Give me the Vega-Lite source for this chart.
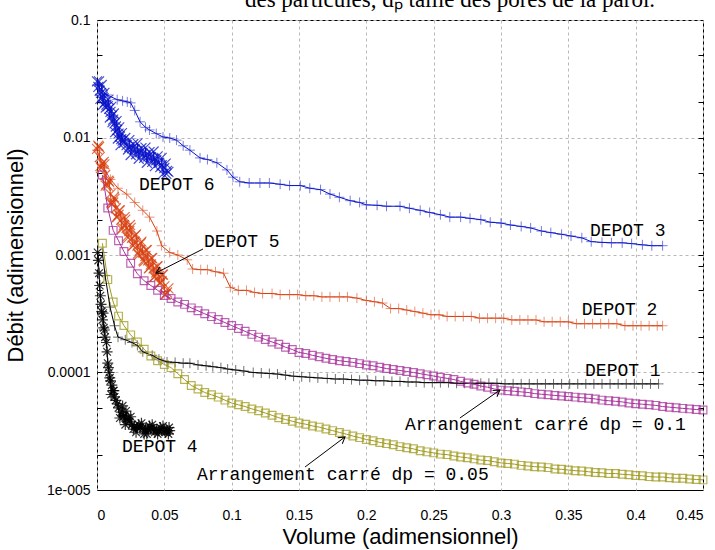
{
"$schema": "https://vega.github.io/schema/vega-lite/v6.json",
"width": 606, "height": 470,
"autosize": {"type": "none"},
"padding": {"left": 97, "top": 20, "right": 12, "bottom": 60},
"background": "white",
"config": {"view": {"stroke": "black", "strokeWidth": 1}},
"title": {"text": "des particules, dₚ taille des pores de la paroi.", "font": "Liberation Serif", "fontSize": 23, "fontWeight": "normal", "color": "black", "anchor": "middle", "frame": "group", "dx": 50, "offset": -17, "baseline": "alphabetic"},
"datasets": {
"pts": [
{"s":"D3","x":0,"y":0.028},{"s":"D3","x":0.004,"y":0.025},{"s":"D3","x":0.0075,"y":0.023},{"s":"D3","x":0.015,"y":0.021},{"s":"D3","x":0.019,"y":0.0205},{"s":"D3","x":0.0225,"y":0.0201},{"s":"D3","x":0.025,"y":0.0197},{"s":"D3","x":0.028,"y":0.017},{"s":"D3","x":0.032,"y":0.0136},{"s":"D3","x":0.036,"y":0.0122},{"s":"D3","x":0.039,"y":0.0116},{"s":"D3","x":0.044,"y":0.0108},{"s":"D3","x":0.049,"y":0.0101},{"s":"D3","x":0.054,"y":0.0099},{"s":"D3","x":0.059,"y":0.0095},{"s":"D3","x":0.064,"y":0.0085},{"s":"D3","x":0.069,"y":0.0078},{"s":"D3","x":0.0765,"y":0.0067},{"s":"D3","x":0.082,"y":0.0065},{"s":"D3","x":0.089,"y":0.0061},{"s":"D3","x":0.0965,"y":0.0053},{"s":"D3","x":0.101,"y":0.0046},{"s":"D3","x":0.106,"y":0.0042},{"s":"D3","x":0.113,"y":0.0041},{"s":"D3","x":0.121,"y":0.0041},{"s":"D3","x":0.128,"y":0.0041},{"s":"D3","x":0.136,"y":0.004},{"s":"D3","x":0.143,"y":0.0039},{"s":"D3","x":0.151,"y":0.0039},{"s":"D3","x":0.158,"y":0.0037},{"s":"D3","x":0.166,"y":0.0036},{"s":"D3","x":0.173,"y":0.0033},{"s":"D3","x":0.18,"y":0.0031},{"s":"D3","x":0.188,"y":0.0029},{"s":"D3","x":0.195,"y":0.0028},{"s":"D3","x":0.2,"y":0.00267},{"s":"D3","x":0.208,"y":0.00265},{"s":"D3","x":0.215,"y":0.0026},{"s":"D3","x":0.225,"y":0.0026},{"s":"D3","x":0.232,"y":0.0025},{"s":"D3","x":0.24,"y":0.0024},{"s":"D3","x":0.247,"y":0.0023},{"s":"D3","x":0.255,"y":0.0022},{"s":"D3","x":0.262,"y":0.0021},{"s":"D3","x":0.27,"y":0.0021},{"s":"D3","x":0.277,"y":0.00205},{"s":"D3","x":0.285,"y":0.002},{"s":"D3","x":0.292,"y":0.0019},{"s":"D3","x":0.3,"y":0.00187},{"s":"D3","x":0.307,"y":0.0018},{"s":"D3","x":0.315,"y":0.00175},{"s":"D3","x":0.322,"y":0.0017},{"s":"D3","x":0.33,"y":0.0016},{"s":"D3","x":0.337,"y":0.00155},{"s":"D3","x":0.345,"y":0.0015},{"s":"D3","x":0.352,"y":0.00145},{"s":"D3","x":0.36,"y":0.0014},{"s":"D3","x":0.367,"y":0.0013},{"s":"D3","x":0.375,"y":0.00128},{"s":"D3","x":0.382,"y":0.00127},{"s":"D3","x":0.39,"y":0.00127},{"s":"D3","x":0.397,"y":0.00125},{"s":"D3","x":0.405,"y":0.00122},{"s":"D3","x":0.412,"y":0.0012},{"s":"D3","x":0.42,"y":0.0012},
{"s":"D2","x":0,"y":0.0078},{"s":"D2","x":0.005,"y":0.0055},{"s":"D2","x":0.01,"y":0.0044},{"s":"D2","x":0.0156,"y":0.0037},{"s":"D2","x":0.022,"y":0.0033},{"s":"D2","x":0.028,"y":0.0028},{"s":"D2","x":0.034,"y":0.0024},{"s":"D2","x":0.039,"y":0.0021},{"s":"D2","x":0.0445,"y":0.0016},{"s":"D2","x":0.048,"y":0.0012},{"s":"D2","x":0.054,"y":0.00105},{"s":"D2","x":0.06,"y":0.001},{"s":"D2","x":0.067,"y":0.00091},{"s":"D2","x":0.071,"y":0.00076},{"s":"D2","x":0.077,"y":0.00075},{"s":"D2","x":0.082,"y":0.00075},{"s":"D2","x":0.088,"y":0.00072},{"s":"D2","x":0.094,"y":0.0007},{"s":"D2","x":0.099,"y":0.00053},{"s":"D2","x":0.105,"y":0.0005},{"s":"D2","x":0.111,"y":0.0005},{"s":"D2","x":0.117,"y":0.00048},{"s":"D2","x":0.123,"y":0.00047},{"s":"D2","x":0.13,"y":0.00047},{"s":"D2","x":0.136,"y":0.00046},{"s":"D2","x":0.143,"y":0.00046},{"s":"D2","x":0.149,"y":0.00046},{"s":"D2","x":0.155,"y":0.00045},{"s":"D2","x":0.161,"y":0.00045},{"s":"D2","x":0.167,"y":0.00044},{"s":"D2","x":0.173,"y":0.00044},{"s":"D2","x":0.18,"y":0.00044},{"s":"D2","x":0.186,"y":0.00044},{"s":"D2","x":0.193,"y":0.00043},{"s":"D2","x":0.2,"y":0.00041},{"s":"D2","x":0.206,"y":0.0004},{"s":"D2","x":0.212,"y":0.00039},{"s":"D2","x":0.218,"y":0.00035},{"s":"D2","x":0.224,"y":0.00035},{"s":"D2","x":0.23,"y":0.00034},{"s":"D2","x":0.236,"y":0.00033},{"s":"D2","x":0.242,"y":0.00032},{"s":"D2","x":0.248,"y":0.00031},{"s":"D2","x":0.254,"y":0.00031},{"s":"D2","x":0.26,"y":0.0003},{"s":"D2","x":0.266,"y":0.0003},{"s":"D2","x":0.272,"y":0.0003},{"s":"D2","x":0.278,"y":0.0003},{"s":"D2","x":0.284,"y":0.00029},{"s":"D2","x":0.29,"y":0.00029},{"s":"D2","x":0.296,"y":0.00029},{"s":"D2","x":0.302,"y":0.00029},{"s":"D2","x":0.308,"y":0.00028},{"s":"D2","x":0.314,"y":0.00028},{"s":"D2","x":0.32,"y":0.00028},{"s":"D2","x":0.326,"y":0.00028},{"s":"D2","x":0.332,"y":0.00027},{"s":"D2","x":0.338,"y":0.00027},{"s":"D2","x":0.344,"y":0.00027},{"s":"D2","x":0.35,"y":0.00027},{"s":"D2","x":0.356,"y":0.00026},{"s":"D2","x":0.362,"y":0.00026},{"s":"D2","x":0.368,"y":0.00026},{"s":"D2","x":0.374,"y":0.00026},{"s":"D2","x":0.38,"y":0.00026},{"s":"D2","x":0.386,"y":0.00026},{"s":"D2","x":0.392,"y":0.00025},{"s":"D2","x":0.398,"y":0.00025},{"s":"D2","x":0.404,"y":0.00025},{"s":"D2","x":0.41,"y":0.00025},{"s":"D2","x":0.416,"y":0.00025},{"s":"D2","x":0.42,"y":0.00025},
{"s":"D1","x":0.004,"y":0.00105},{"s":"D1","x":0.006,"y":0.00067},{"s":"D1","x":0.0097,"y":0.00036},{"s":"D1","x":0.013,"y":0.00025},{"s":"D1","x":0.0156,"y":0.0002},{"s":"D1","x":0.021,"y":0.00019},{"s":"D1","x":0.026,"y":0.00018},{"s":"D1","x":0.03,"y":0.00017},{"s":"D1","x":0.034,"y":0.00015},{"s":"D1","x":0.041,"y":0.00014},{"s":"D1","x":0.046,"y":0.00013},{"s":"D1","x":0.052,"y":0.000123},{"s":"D1","x":0.058,"y":0.000122},{"s":"D1","x":0.064,"y":0.00012},{"s":"D1","x":0.069,"y":0.00012},{"s":"D1","x":0.075,"y":0.000116},{"s":"D1","x":0.081,"y":0.000114},{"s":"D1","x":0.086,"y":0.000112},{"s":"D1","x":0.092,"y":0.00011},{"s":"D1","x":0.097,"y":0.000107},{"s":"D1","x":0.103,"y":0.000105},{"s":"D1","x":0.109,"y":0.000103},{"s":"D1","x":0.116,"y":0.0001},{"s":"D1","x":0.122,"y":0.000099},{"s":"D1","x":0.128,"y":0.000098},{"s":"D1","x":0.134,"y":0.000097},{"s":"D1","x":0.14,"y":0.000095},{"s":"D1","x":0.146,"y":0.000093},{"s":"D1","x":0.152,"y":0.000092},{"s":"D1","x":0.158,"y":0.000091},{"s":"D1","x":0.164,"y":0.00009},{"s":"D1","x":0.171,"y":0.000089},{"s":"D1","x":0.177,"y":0.000088},{"s":"D1","x":0.183,"y":0.000088},{"s":"D1","x":0.189,"y":0.000087},{"s":"D1","x":0.195,"y":0.000086},{"s":"D1","x":0.201,"y":0.000086},{"s":"D1","x":0.207,"y":0.000085},{"s":"D1","x":0.213,"y":0.000085},{"s":"D1","x":0.219,"y":0.000084},{"s":"D1","x":0.225,"y":0.000084},{"s":"D1","x":0.231,"y":0.000083},{"s":"D1","x":0.237,"y":0.000083},{"s":"D1","x":0.243,"y":0.000082},{"s":"D1","x":0.249,"y":0.000082},{"s":"D1","x":0.255,"y":0.000082},{"s":"D1","x":0.261,"y":0.000082},{"s":"D1","x":0.267,"y":0.000081},{"s":"D1","x":0.273,"y":0.000081},{"s":"D1","x":0.279,"y":0.000081},{"s":"D1","x":0.285,"y":0.000081},{"s":"D1","x":0.291,"y":0.000081},{"s":"D1","x":0.297,"y":0.000081},{"s":"D1","x":0.303,"y":0.00008},{"s":"D1","x":0.309,"y":0.00008},{"s":"D1","x":0.315,"y":0.00008},{"s":"D1","x":0.321,"y":0.00008},{"s":"D1","x":0.327,"y":0.00008},{"s":"D1","x":0.333,"y":0.00008},{"s":"D1","x":0.339,"y":0.00008},{"s":"D1","x":0.345,"y":0.00008},{"s":"D1","x":0.351,"y":0.00008},{"s":"D1","x":0.357,"y":0.00008},{"s":"D1","x":0.363,"y":0.00008},{"s":"D1","x":0.369,"y":0.00008},{"s":"D1","x":0.375,"y":0.00008},{"s":"D1","x":0.381,"y":0.00008},{"s":"D1","x":0.387,"y":0.00008},{"s":"D1","x":0.393,"y":0.00008},{"s":"D1","x":0.399,"y":0.00008},{"s":"D1","x":0.405,"y":0.00008},{"s":"D1","x":0.411,"y":0.00008},{"s":"D1","x":0.417,"y":0.00008},
{"s":"D6","x":0,"y":0.03},{"s":"D6","x":0.001,"y":0.027},{"s":"D6","x":0.002,"y":0.025},{"s":"D6","x":0.003,"y":0.024},{"s":"D6","x":0.004,"y":0.022},{"s":"D6","x":0.005,"y":0.0215},{"s":"D6","x":0.006,"y":0.02},{"s":"D6","x":0.007,"y":0.019},{"s":"D6","x":0.008,"y":0.0185},{"s":"D6","x":0.009,"y":0.0175},{"s":"D6","x":0.01,"y":0.0165},{"s":"D6","x":0.011,"y":0.0152},{"s":"D6","x":0.012,"y":0.0142},{"s":"D6","x":0.013,"y":0.0132},{"s":"D6","x":0.014,"y":0.0124},{"s":"D6","x":0.015,"y":0.0116},{"s":"D6","x":0.016,"y":0.0108},{"s":"D6","x":0.017,"y":0.0102},{"s":"D6","x":0.018,"y":0.0097},{"s":"D6","x":0.019,"y":0.0094},{"s":"D6","x":0.02,"y":0.009},{"s":"D6","x":0.022,"y":0.0086},{"s":"D6","x":0.024,"y":0.0083},{"s":"D6","x":0.026,"y":0.0081},{"s":"D6","x":0.028,"y":0.0079},{"s":"D6","x":0.03,"y":0.0077},{"s":"D6","x":0.032,"y":0.0075},{"s":"D6","x":0.034,"y":0.0073},{"s":"D6","x":0.036,"y":0.0071},{"s":"D6","x":0.038,"y":0.0069},{"s":"D6","x":0.04,"y":0.0068},{"s":"D6","x":0.042,"y":0.0066},{"s":"D6","x":0.044,"y":0.0064},{"s":"D6","x":0.046,"y":0.0061},{"s":"D6","x":0.048,"y":0.0058},{"s":"D6","x":0.05,"y":0.0055},{"s":"D6","x":0.052,"y":0.0052},{"s":"D6","x":0.053,"y":0.0051},
{"s":"D6","x":0.0035,"y":0.028},{"s":"D6","x":0.0085,"y":0.021},{"s":"D6","x":0.0125,"y":0.016},{"s":"D6","x":0.0165,"y":0.0122},{"s":"D6","x":0.021,"y":0.0099},{"s":"D6","x":0.027,"y":0.0088},{"s":"D6","x":0.033,"y":0.0081},{"s":"D6","x":0.039,"y":0.0075},{"s":"D6","x":0.045,"y":0.0069},{"s":"D6","x":0.051,"y":0.006},{"s":"D6","x":0.0065,"y":0.018},{"s":"D6","x":0.0115,"y":0.0135},{"s":"D6","x":0.0155,"y":0.0098},{"s":"D6","x":0.023,"y":0.0079},{"s":"D6","x":0.029,"y":0.0072},{"s":"D6","x":0.035,"y":0.0067},{"s":"D6","x":0.041,"y":0.0062},{"s":"D6","x":0.047,"y":0.0056},{"s":"D6","x":0.0515,"y":0.0049},
{"s":"D6","x":0.0015,"y":0.03},{"s":"D6","x":0.0055,"y":0.024},{"s":"D6","x":0.0105,"y":0.0182},{"s":"D6","x":0.0145,"y":0.0138},{"s":"D6","x":0.0185,"y":0.0109},{"s":"D6","x":0.024,"y":0.0095},{"s":"D6","x":0.03,"y":0.0089},{"s":"D6","x":0.036,"y":0.0082},{"s":"D6","x":0.042,"y":0.0076},{"s":"D6","x":0.048,"y":0.0067},{"s":"D6","x":0.0025,"y":0.0213},{"s":"D6","x":0.0045,"y":0.019},{"s":"D6","x":0.0095,"y":0.0148},{"s":"D6","x":0.0135,"y":0.0111},{"s":"D6","x":0.0175,"y":0.0086},{"s":"D6","x":0.025,"y":0.0071},{"s":"D6","x":0.031,"y":0.0066},{"s":"D6","x":0.037,"y":0.0061},{"s":"D6","x":0.043,"y":0.0057},{"s":"D6","x":0.049,"y":0.0049},
{"s":"D5","x":0,"y":0.008},{"s":"D5","x":0.002,"y":0.0068},{"s":"D5","x":0.004,"y":0.006},{"s":"D5","x":0.006,"y":0.0048},{"s":"D5","x":0.008,"y":0.0039},{"s":"D5","x":0.01,"y":0.0033},{"s":"D5","x":0.012,"y":0.0028},{"s":"D5","x":0.014,"y":0.0025},{"s":"D5","x":0.016,"y":0.0022},{"s":"D5","x":0.018,"y":0.002},{"s":"D5","x":0.02,"y":0.0018},{"s":"D5","x":0.022,"y":0.0017},{"s":"D5","x":0.024,"y":0.0016},{"s":"D5","x":0.026,"y":0.0014},{"s":"D5","x":0.028,"y":0.0013},{"s":"D5","x":0.03,"y":0.0012},{"s":"D5","x":0.032,"y":0.0011},{"s":"D5","x":0.034,"y":0.00105},{"s":"D5","x":0.036,"y":0.00098},{"s":"D5","x":0.038,"y":0.0009},{"s":"D5","x":0.04,"y":0.00083},{"s":"D5","x":0.042,"y":0.00077},{"s":"D5","x":0.044,"y":0.00071},{"s":"D5","x":0.046,"y":0.00066},{"s":"D5","x":0.048,"y":0.0006},{"s":"D5","x":0.05,"y":0.00054},{"s":"D5","x":0.052,"y":0.00048},
{"s":"D5","x":0.001,"y":0.0085},{"s":"D5","x":0.005,"y":0.0062},{"s":"D5","x":0.009,"y":0.0042},{"s":"D5","x":0.013,"y":0.003},{"s":"D5","x":0.017,"y":0.0024},{"s":"D5","x":0.021,"y":0.002},{"s":"D5","x":0.025,"y":0.0017},{"s":"D5","x":0.029,"y":0.0015},{"s":"D5","x":0.033,"y":0.0013},{"s":"D5","x":0.037,"y":0.0011},{"s":"D5","x":0.041,"y":0.00094},{"s":"D5","x":0.045,"y":0.0008},{"s":"D5","x":0.049,"y":0.00068},{"s":"D5","x":0.053,"y":0.00052},{"s":"D5","x":0.003,"y":0.0055},{"s":"D5","x":0.007,"y":0.004},{"s":"D5","x":0.011,"y":0.0027},{"s":"D5","x":0.015,"y":0.0021},{"s":"D5","x":0.019,"y":0.0017},{"s":"D5","x":0.023,"y":0.0014},{"s":"D5","x":0.027,"y":0.0012},{"s":"D5","x":0.031,"y":0.001},{"s":"D5","x":0.035,"y":0.00088},{"s":"D5","x":0.039,"y":0.00078},{"s":"D5","x":0.043,"y":0.00066},{"s":"D5","x":0.047,"y":0.00058},{"s":"D5","x":0.051,"y":0.00046},
{"s":"D5","x":0.0015,"y":0.0083},{"s":"D5","x":0.0055,"y":0.0059},{"s":"D5","x":0.0085,"y":0.0043},{"s":"D5","x":0.0125,"y":0.0031},{"s":"D5","x":0.0165,"y":0.0024},{"s":"D5","x":0.0205,"y":0.0021},{"s":"D5","x":0.0245,"y":0.0018},{"s":"D5","x":0.0285,"y":0.00147},{"s":"D5","x":0.0325,"y":0.00126},{"s":"D5","x":0.0365,"y":0.0011},{"s":"D5","x":0.0405,"y":0.00094},{"s":"D5","x":0.0445,"y":0.0008},{"s":"D5","x":0.0485,"y":0.00068},{"s":"D5","x":0.0025,"y":0.0057},{"s":"D5","x":0.0065,"y":0.0039},{"s":"D5","x":0.0105,"y":0.0028},{"s":"D5","x":0.0145,"y":0.0021},{"s":"D5","x":0.0185,"y":0.00165},{"s":"D5","x":0.0225,"y":0.00144},{"s":"D5","x":0.0265,"y":0.0012},{"s":"D5","x":0.0305,"y":0.00103},{"s":"D5","x":0.0345,"y":0.0009},{"s":"D5","x":0.0385,"y":0.00077},{"s":"D5","x":0.0425,"y":0.00065},{"s":"D5","x":0.0465,"y":0.00057},{"s":"D5","x":0.0505,"y":0.00046},
{"s":"D4","x":0.0005,"y":0.00105},{"s":"D4","x":0.001,"y":0.0009},{"s":"D4","x":0.0015,"y":0.0007},{"s":"D4","x":0.002,"y":0.00055},{"s":"D4","x":0.0025,"y":0.00045},{"s":"D4","x":0.003,"y":0.00038},{"s":"D4","x":0.0035,"y":0.00033},{"s":"D4","x":0.004,"y":0.00028},{"s":"D4","x":0.005,"y":0.00024},{"s":"D4","x":0.006,"y":0.0002},{"s":"D4","x":0.007,"y":0.00018},{"s":"D4","x":0.008,"y":0.00012},{"s":"D4","x":0.009,"y":0.0001},{"s":"D4","x":0.01,"y":0.000085},{"s":"D4","x":0.011,"y":0.000078},{"s":"D4","x":0.012,"y":0.00007},{"s":"D4","x":0.013,"y":0.000062},{"s":"D4","x":0.014,"y":0.000058},{"s":"D4","x":0.015,"y":0.000054},{"s":"D4","x":0.016,"y":0.00005},{"s":"D4","x":0.018,"y":0.000046},{"s":"D4","x":0.02,"y":0.000043},{"s":"D4","x":0.022,"y":0.00004},{"s":"D4","x":0.024,"y":0.000038},{"s":"D4","x":0.026,"y":0.000036},{"s":"D4","x":0.028,"y":0.000035},{"s":"D4","x":0.03,"y":0.000034},{"s":"D4","x":0.032,"y":0.000034},{"s":"D4","x":0.034,"y":0.0000335},{"s":"D4","x":0.036,"y":0.000033},{"s":"D4","x":0.038,"y":0.000033},{"s":"D4","x":0.04,"y":0.000033},{"s":"D4","x":0.042,"y":0.0000325},{"s":"D4","x":0.044,"y":0.0000325},{"s":"D4","x":0.046,"y":0.000032},{"s":"D4","x":0.048,"y":0.000032},{"s":"D4","x":0.05,"y":0.000032},{"s":"D4","x":0.052,"y":0.000032},{"s":"D4","x":0.054,"y":0.000032},
{"s":"D4","x":0.017,"y":0.000041},{"s":"D4","x":0.019,"y":0.000052},{"s":"D4","x":0.021,"y":0.000036},{"s":"D4","x":0.025,"y":0.000042},{"s":"D4","x":0.029,"y":0.000031},{"s":"D4","x":0.033,"y":0.000037},{"s":"D4","x":0.037,"y":0.00003},{"s":"D4","x":0.041,"y":0.000036},{"s":"D4","x":0.045,"y":0.00003},{"s":"D4","x":0.049,"y":0.000035},{"s":"D4","x":0.053,"y":0.00003},{"s":"D4","x":0.0105,"y":0.000065},{"s":"D4","x":0.0125,"y":0.00007},
{"s":"D4","x":0.023,"y":0.000041},{"s":"D4","x":0.027,"y":0.000033},{"s":"D4","x":0.031,"y":0.000036},{"s":"D4","x":0.035,"y":0.00003},{"s":"D4","x":0.039,"y":0.000035},{"s":"D4","x":0.043,"y":0.000031},{"s":"D4","x":0.047,"y":0.000034},{"s":"D4","x":0.051,"y":0.000031},{"s":"D4","x":0.0535,"y":0.000034},{"s":"D4","x":0.0195,"y":0.000042},{"s":"D4","x":0.0215,"y":0.000047},{"s":"D4","x":0.0075,"y":0.00015},{"s":"D4","x":0.0085,"y":0.00011},{"s":"D4","x":0.0095,"y":0.00009},{"s":"D4","x":0.0055,"y":0.00023},{"s":"D4","x":0.0045,"y":0.00032},
{"s":"C1","x":0.004,"y":0.00479},{"s":"C1","x":0.008,"y":0.00251},{"s":"C1","x":0.012,"y":0.00162},{"s":"C1","x":0.016,"y":0.00132},{"s":"C1","x":0.02,"y":0.00107},{"s":"C1","x":0.025,"y":0.000851},{"s":"C1","x":0.03,"y":0.000692},{"s":"C1","x":0.035,"y":0.000603},{"s":"C1","x":0.04,"y":0.00055},{"s":"C1","x":0.045,"y":0.000501},{"s":"C1","x":0.05,"y":0.000452},{"s":"C1","x":0.055,"y":0.000427},{"s":"C1","x":0.06,"y":0.000398},{"s":"C1","x":0.065,"y":0.00038},{"s":"C1","x":0.07,"y":0.000355},{"s":"C1","x":0.075,"y":0.000335},{"s":"C1","x":0.08,"y":0.000316},{"s":"C1","x":0.085,"y":0.000299},{"s":"C1","x":0.09,"y":0.000282},{"s":"C1","x":0.095,"y":0.000266},{"s":"C1","x":0.1,"y":0.000251},{"s":"C1","x":0.105,"y":0.000237},{"s":"C1","x":0.11,"y":0.000224},{"s":"C1","x":0.115,"y":0.000211},{"s":"C1","x":0.12,"y":0.0002},{"s":"C1","x":0.125,"y":0.000191},{"s":"C1","x":0.13,"y":0.000182},{"s":"C1","x":0.135,"y":0.000174},{"s":"C1","x":0.14,"y":0.000164},{"s":"C1","x":0.145,"y":0.000157},{"s":"C1","x":0.15,"y":0.000148},{"s":"C1","x":0.155,"y":0.000145},{"s":"C1","x":0.16,"y":0.00014},{"s":"C1","x":0.165,"y":0.000136},{"s":"C1","x":0.17,"y":0.000132},{"s":"C1","x":0.175,"y":0.000129},{"s":"C1","x":0.18,"y":0.000126},{"s":"C1","x":0.185,"y":0.000124},{"s":"C1","x":0.19,"y":0.000122},{"s":"C1","x":0.195,"y":0.000119},{"s":"C1","x":0.2,"y":0.000116},{"s":"C1","x":0.205,"y":0.000114},{"s":"C1","x":0.21,"y":0.000111},{"s":"C1","x":0.215,"y":0.000108},{"s":"C1","x":0.22,"y":0.000106},{"s":"C1","x":0.225,"y":0.000104},{"s":"C1","x":0.23,"y":0.000102},{"s":"C1","x":0.235,"y":0.0001},{"s":"C1","x":0.24,"y":0.0000977},{"s":"C1","x":0.245,"y":0.0000955},{"s":"C1","x":0.25,"y":0.0000933},{"s":"C1","x":0.255,"y":0.0000912},{"s":"C1","x":0.26,"y":0.0000891},{"s":"C1","x":0.265,"y":0.0000871},{"s":"C1","x":0.27,"y":0.0000841},{"s":"C1","x":0.275,"y":0.0000813},{"s":"C1","x":0.28,"y":0.0000794},{"s":"C1","x":0.285,"y":0.0000767},{"s":"C1","x":0.29,"y":0.000075},{"s":"C1","x":0.295,"y":0.0000724},{"s":"C1","x":0.3,"y":0.0000708},{"s":"C1","x":0.305,"y":0.00007},{"s":"C1","x":0.31,"y":0.0000692},{"s":"C1","x":0.315,"y":0.0000684},{"s":"C1","x":0.32,"y":0.0000676},{"s":"C1","x":0.325,"y":0.0000661},{"s":"C1","x":0.33,"y":0.0000653},{"s":"C1","x":0.335,"y":0.0000646},{"s":"C1","x":0.34,"y":0.0000638},{"s":"C1","x":0.345,"y":0.0000631},{"s":"C1","x":0.35,"y":0.0000624},{"s":"C1","x":0.355,"y":0.0000617},{"s":"C1","x":0.36,"y":0.000061},{"s":"C1","x":0.365,"y":0.0000603},{"s":"C1","x":0.37,"y":0.0000596},{"s":"C1","x":0.375,"y":0.0000582},{"s":"C1","x":0.38,"y":0.0000575},{"s":"C1","x":0.385,"y":0.0000569},{"s":"C1","x":0.39,"y":0.0000562},{"s":"C1","x":0.395,"y":0.000055},{"s":"C1","x":0.4,"y":0.0000543},{"s":"C1","x":0.405,"y":0.0000537},{"s":"C1","x":0.41,"y":0.0000531},{"s":"C1","x":0.415,"y":0.0000525},{"s":"C1","x":0.42,"y":0.0000513},{"s":"C1","x":0.425,"y":0.0000507},{"s":"C1","x":0.43,"y":0.0000501},{"s":"C1","x":0.435,"y":0.0000495},{"s":"C1","x":0.44,"y":0.000049},{"s":"C1","x":0.445,"y":0.0000484},{"s":"C1","x":0.45,"y":0.0000479},
{"s":"C05","x":0.004,"y":0.00126},{"s":"C05","x":0.008,"y":0.000617},{"s":"C05","x":0.012,"y":0.000398},{"s":"C05","x":0.016,"y":0.000302},{"s":"C05","x":0.02,"y":0.000251},{"s":"C05","x":0.025,"y":0.000209},{"s":"C05","x":0.03,"y":0.000182},{"s":"C05","x":0.035,"y":0.000158},{"s":"C05","x":0.04,"y":0.000138},{"s":"C05","x":0.045,"y":0.000126},{"s":"C05","x":0.05,"y":0.000117},{"s":"C05","x":0.055,"y":0.00011},{"s":"C05","x":0.06,"y":0.0000977},{"s":"C05","x":0.065,"y":0.0000871},{"s":"C05","x":0.07,"y":0.0000776},{"s":"C05","x":0.075,"y":0.0000724},{"s":"C05","x":0.08,"y":0.0000676},{"s":"C05","x":0.085,"y":0.0000646},{"s":"C05","x":0.09,"y":0.0000617},{"s":"C05","x":0.095,"y":0.0000582},{"s":"C05","x":0.1,"y":0.000055},{"s":"C05","x":0.105,"y":0.0000531},{"s":"C05","x":0.11,"y":0.0000513},{"s":"C05","x":0.115,"y":0.000049},{"s":"C05","x":0.12,"y":0.0000473},{"s":"C05","x":0.125,"y":0.0000452},{"s":"C05","x":0.13,"y":0.0000432},{"s":"C05","x":0.135,"y":0.0000412},{"s":"C05","x":0.14,"y":0.0000398},{"s":"C05","x":0.145,"y":0.0000385},{"s":"C05","x":0.15,"y":0.0000372},{"s":"C05","x":0.155,"y":0.0000363},{"s":"C05","x":0.16,"y":0.0000351},{"s":"C05","x":0.165,"y":0.0000343},{"s":"C05","x":0.17,"y":0.0000331},{"s":"C05","x":0.175,"y":0.000032},{"s":"C05","x":0.18,"y":0.0000309},{"s":"C05","x":0.185,"y":0.0000299},{"s":"C05","x":0.19,"y":0.0000288},{"s":"C05","x":0.195,"y":0.0000279},{"s":"C05","x":0.2,"y":0.0000269},{"s":"C05","x":0.205,"y":0.0000263},{"s":"C05","x":0.21,"y":0.0000254},{"s":"C05","x":0.215,"y":0.0000248},{"s":"C05","x":0.22,"y":0.0000243},{"s":"C05","x":0.225,"y":0.0000234},{"s":"C05","x":0.23,"y":0.0000229},{"s":"C05","x":0.235,"y":0.0000224},{"s":"C05","x":0.24,"y":0.0000216},{"s":"C05","x":0.245,"y":0.0000211},{"s":"C05","x":0.25,"y":0.0000207},{"s":"C05","x":0.255,"y":0.0000202},{"s":"C05","x":0.26,"y":0.00002},{"s":"C05","x":0.265,"y":0.0000195},{"s":"C05","x":0.27,"y":0.0000191},{"s":"C05","x":0.275,"y":0.0000188},{"s":"C05","x":0.28,"y":0.0000184},{"s":"C05","x":0.285,"y":0.000018},{"s":"C05","x":0.29,"y":0.0000178},{"s":"C05","x":0.295,"y":0.0000174},{"s":"C05","x":0.3,"y":0.000017},{"s":"C05","x":0.305,"y":0.0000168},{"s":"C05","x":0.31,"y":0.0000166},{"s":"C05","x":0.315,"y":0.0000162},{"s":"C05","x":0.32,"y":0.000016},{"s":"C05","x":0.325,"y":0.0000158},{"s":"C05","x":0.33,"y":0.0000157},{"s":"C05","x":0.335,"y":0.0000155},{"s":"C05","x":0.34,"y":0.0000151},{"s":"C05","x":0.345,"y":0.000015},{"s":"C05","x":0.35,"y":0.0000148},{"s":"C05","x":0.355,"y":0.0000146},{"s":"C05","x":0.36,"y":0.0000145},{"s":"C05","x":0.365,"y":0.0000143},{"s":"C05","x":0.37,"y":0.0000141},{"s":"C05","x":0.375,"y":0.000014},{"s":"C05","x":0.38,"y":0.0000138},{"s":"C05","x":0.385,"y":0.0000138},{"s":"C05","x":0.39,"y":0.0000136},{"s":"C05","x":0.395,"y":0.0000135},{"s":"C05","x":0.4,"y":0.0000133},{"s":"C05","x":0.405,"y":0.0000132},{"s":"C05","x":0.41,"y":0.000013},{"s":"C05","x":0.415,"y":0.0000129},{"s":"C05","x":0.42,"y":0.0000129},{"s":"C05","x":0.425,"y":0.0000127},{"s":"C05","x":0.43,"y":0.0000126},{"s":"C05","x":0.435,"y":0.0000126},{"s":"C05","x":0.44,"y":0.0000124},{"s":"C05","x":0.445,"y":0.0000123},{"s":"C05","x":0.45,"y":0.0000122}
],
"labels": [
{"t":"DEPOT 6","x":0.0312,"y":0.00357},
{"t":"DEPOT 5","x":0.0795,"y":0.00117},
{"t":"DEPOT 3","x":0.366,"y":0.00145},
{"t":"DEPOT 2","x":0.36,"y":0.000308},
{"t":"DEPOT 1","x":0.3624,"y":0.0000933},
{"t":"DEPOT 4","x":0.0186,"y":0.0000211},
{"t":"Arrangement carré dp = 0.1","x":0.2287,"y":0.0000325},
{"t":"Arrangement carré dp = 0.05","x":0.0743,"y":0.0000122}
],
"arrows": [
{"id":"a5","x":0.0787,"y":0.001125,"x2":0.0438,"y2":0.000703},
{"id":"a1","x":0.2695,"y":0.000041,"x2":0.2992,"y2":0.0000709},
{"id":"a05","x":0.1545,"y":0.0000157,"x2":0.1842,"y2":0.0000283}
]
},
"encoding": {
"x": {"field": "x", "type": "quantitative", "scale": {"domain": [0, 0.45], "nice": false, "zero": false},
 "axis": {"values": [0,0.05,0.1,0.15,0.2,0.25,0.3,0.35,0.4,0.45], "format": "~g", "grid": true, "gridDash": [3,3], "gridColor": "#b8b8b8", "ticks": false, "domain": false, "labelFont": "Liberation Sans", "labelFontSize": 14, "labelColor": "black", "labelPadding": 18, "title": "Volume (adimensionnel)", "titleFont": "Liberation Sans", "titleFontSize": 22, "titleFontWeight": "normal", "titleColor": "black", "titlePadding": 4}}
},
"layer": [
{"data": {"name": "pts"}, "transform": [{"filter": {"field": "s", "oneOf": ["D1","D2","D3"]}}],
 "mark": {"type": "point", "filled": false, "strokeWidth": 1, "opacity": 0.55, "size": 100, "shape": "M-1,0L1,0M0,-1L0,1"},
 "encoding": {
  "y": {"field": "y", "type": "quantitative", "scale": {"type": "log", "domain": [0.00001, 0.1], "nice": false},
   "axis": {"orient": "right", "values": [0.00002,0.00005,0.00008,0.0001,0.0002,0.0005,0.0008,0.001,0.002,0.005,0.01,0.02,0.05], "labels": false, "grid": false, "domain": false, "ticks": true, "tickSize": -5, "tickColor": "black", "title": null}},
  "color": {"field": "s", "type": "nominal", "legend": null, "scale": {"domain": ["D1","D2","D3","D4","D5","D6","C1","C05"], "range": ["#000000","#d84010","#0a14c8","#000000","#d84010","#0a14c8","#a8309c","#a09a1e"]}}
 }},
{"data": {"name": "pts"}, "transform": [{"filter": {"field": "s", "oneOf": ["D5","D6"]}}],
 "mark": {"type": "point", "filled": false, "strokeWidth": 1.2, "opacity": 0.75, "size": 100, "shape": "M-1,-1L1,1M-1,1L1,-1"},
 "encoding": {
  "y": {"field": "y", "type": "quantitative", "scale": {"type": "log", "domain": [0.00001, 0.1], "nice": false}, "axis": null},
  "color": {"field": "s", "type": "nominal", "legend": null, "scale": {"domain": ["D1","D2","D3","D4","D5","D6","C1","C05"], "range": ["#000000","#d84010","#0a14c8","#000000","#d84010","#0a14c8","#a8309c","#a09a1e"]}}
 }},
{"data": {"name": "pts"}, "transform": [{"filter": {"field": "s", "oneOf": ["D4"]}}],
 "mark": {"type": "point", "filled": false, "strokeWidth": 1.2, "opacity": 0.8, "size": 120, "shape": "M-1,0L1,0M0,-1L0,1M-0.7,-0.7L0.7,0.7M-0.7,0.7L0.7,-0.7"},
 "encoding": {
  "y": {"field": "y", "type": "quantitative", "scale": {"type": "log", "domain": [0.00001, 0.1], "nice": false}, "axis": null},
  "color": {"field": "s", "type": "nominal", "legend": null, "scale": {"domain": ["D1","D2","D3","D4","D5","D6","C1","C05"], "range": ["#000000","#d84010","#0a14c8","#000000","#d84010","#0a14c8","#a8309c","#a09a1e"]}}
 }},
{"data": {"name": "pts"}, "transform": [{"filter": {"field": "s", "oneOf": ["C1","C05"]}}],
 "mark": {"type": "point", "filled": false, "strokeWidth": 1.2, "opacity": 0.75, "size": 60, "shape": "square"},
 "encoding": {
  "y": {"field": "y", "type": "quantitative", "scale": {"type": "log", "domain": [0.00001, 0.1], "nice": false}, "axis": null},
  "color": {"field": "s", "type": "nominal", "legend": null, "scale": {"domain": ["D1","D2","D3","D4","D5","D6","C1","C05"], "range": ["#000000","#d84010","#0a14c8","#000000","#d84010","#0a14c8","#a8309c","#a09a1e"]}}
 }},
{"data": {"name": "pts"},
 "mark": {"type": "line", "strokeWidth": 1},
 "encoding": {
  "y": {"field": "y", "type": "quantitative", "scale": {"type": "log", "domain": [0.00001, 0.1], "nice": false},
   "axis": {"orient": "left", "values": [0.00001,0.00002,0.00005,0.0001,0.0002,0.0005,0.001,0.002,0.005,0.01,0.02,0.05,0.1],
    "labelExpr": "datum.value == 0.1 ? '0.1' : datum.value == 0.01 ? '0.01' : datum.value == 0.001 ? '0.001' : datum.value == 0.0001 ? '0.0001' : datum.value == 0.00001 ? '1e-005' : ''",
    "grid": true, "gridDash": [3,3], "gridColor": "#b8b8b8",
    "gridOpacity": {"condition": {"test": "datum.value == 0.1 || datum.value == 0.01 || datum.value == 0.001 || datum.value == 0.0001", "value": 1}, "value": 0},
    "domain": false, "ticks": true, "tickSize": -5, "tickColor": "black",
    "labelFont": "Liberation Sans", "labelFontSize": 14, "labelColor": "black", "labelPadding": 12,
    "title": "Débit (adimensionnel)", "titleFont": "Liberation Sans", "titleFontSize": 22, "titleFontWeight": "normal", "titleColor": "black", "titlePadding": 19}},
  "color": {"field": "s", "type": "nominal", "legend": null, "scale": {"domain": ["D1","D2","D3","D4","D5","D6","C1","C05"], "range": ["#000000","#d84010","#0a14c8","#000000","#d84010","#0a14c8","#a8309c","#a09a1e"]}},
  "detail": {"field": "s", "type": "nominal"}
 }},
{"data": {"name": "labels"},
 "mark": {"type": "text", "align": "left", "baseline": "alphabetic", "font": "Liberation Mono", "fontSize": 18, "fontWeight": "normal", "color": "black"},
 "encoding": {
  "y": {"field": "y", "type": "quantitative", "scale": {"type": "log", "domain": [0.00001, 0.1], "nice": false}, "axis": null},
  "text": {"field": "t"}
 }},
{"data": {"name": "arrows"},
 "mark": {"type": "rule", "color": "black", "strokeWidth": 1},
 "encoding": {
  "y": {"field": "y", "type": "quantitative", "scale": {"type": "log", "domain": [0.00001, 0.1], "nice": false}, "axis": null},
  "x2": {"field": "x2"}, "y2": {"field": "y2"}
 }},
{"data": {"name": "arrows"}, "transform": [{"filter": "datum.id == 'a5'"}],
 "mark": {"type": "point", "filled": false, "color": "black", "strokeWidth": 1, "opacity": 1, "size": 160, "shape": "M-1,-0.6L0,0L-1,0.6", "angle": 153},
 "encoding": {"x": {"field": "x2", "type": "quantitative"}, "y": {"field": "y2", "type": "quantitative", "scale": {"type": "log", "domain": [0.00001, 0.1], "nice": false}, "axis": null}}},
{"data": {"name": "arrows"}, "transform": [{"filter": "datum.id == 'a1'"}],
 "mark": {"type": "point", "filled": false, "color": "black", "strokeWidth": 1, "opacity": 1, "size": 160, "shape": "M-1,-0.6L0,0L-1,0.6", "angle": 325},
 "encoding": {"x": {"field": "x2", "type": "quantitative"}, "y": {"field": "y2", "type": "quantitative", "scale": {"type": "log", "domain": [0.00001, 0.1], "nice": false}, "axis": null}}},
{"data": {"name": "arrows"}, "transform": [{"filter": "datum.id == 'a05'"}],
 "mark": {"type": "point", "filled": false, "color": "black", "strokeWidth": 1, "opacity": 1, "size": 160, "shape": "M-1,-0.6L0,0L-1,0.6", "angle": 323},
 "encoding": {"x": {"field": "x2", "type": "quantitative"}, "y": {"field": "y2", "type": "quantitative", "scale": {"type": "log", "domain": [0.00001, 0.1], "nice": false}, "axis": null}}}
],
"resolve": {"axis": {"y": "independent"}}
}
